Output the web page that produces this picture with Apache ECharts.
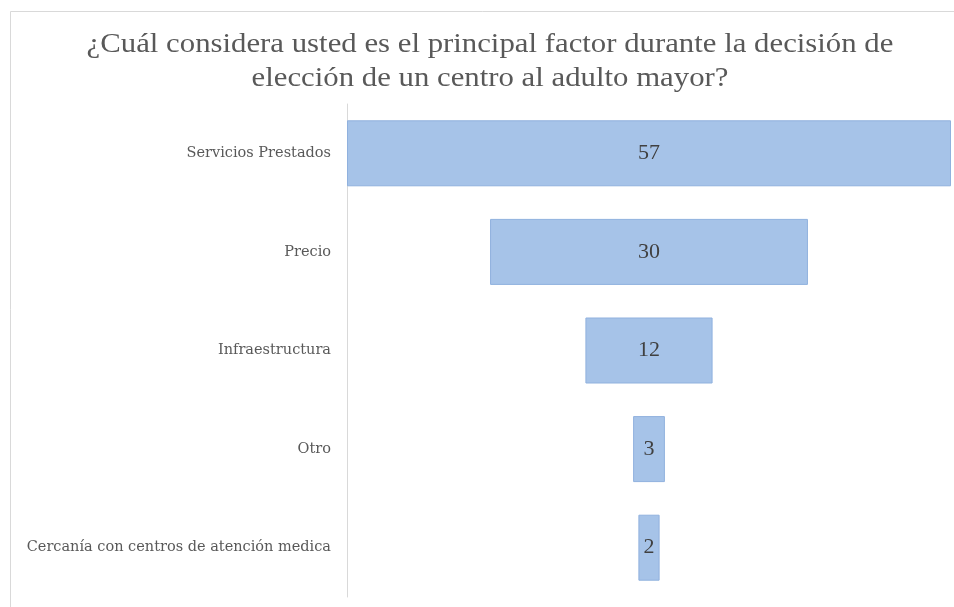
<!DOCTYPE html>
<html lang="es">
<head>
<meta charset="UTF-8">
<title>Factor de elección</title>
<style>
  html, body { margin: 0; padding: 0; background: #fff; }
  #chart { width: 954px; height: 607px; }
</style>
</head>
<body>
<div id="chart"></div>
<script src="https://cdn.jsdelivr.net/npm/echarts@6/dist/echarts.min.js"></script>
<script>
  // datos
  const titulo = '¿Cuál considera usted es el principal factor durante la decisión de\nelección de un centro al adulto mayor?';
  const categorias = ['Servicios Prestados', 'Precio', 'Infraestructura', 'Otro', 'Cercanía con centros de atención medica'];
  const valores = [57, 30, 12, 3, 2];

  const maximo = Math.max(...valores);
  // relleno invisible para centrar cada barra (efecto embudo)
  const relleno = valores.map(v => (maximo - v) / 2);

  const chart = echarts.init(document.getElementById('chart'));
  chart.setOption({
    backgroundColor: '#fff',
    animation: false,
    graphic: [{
      type: 'rect',
      shape: { x: 10.5, y: 11.5, width: 960, height: 620 },
      style: { fill: 'none', stroke: '#d9d9d9', lineWidth: 1 },
      silent: true
    }, {
      // título un poco ensanchado como en la imagen original
      type: 'text',
      x: 490,
      y: 28,
      scaleX: 1.14,
      style: {
        text: titulo,
        align: 'center',
        fontFamily: 'Liberation Serif',
        fontSize: 27,
        lineHeight: 34,
        fill: '#595959'
      },
      silent: true
    }],
    grid: { left: 347, right: 3, top: 104, bottom: 10 },
    xAxis: {
      type: 'value',
      min: 0,
      max: maximo,
      show: false
    },
    yAxis: {
      type: 'category',
      inverse: true,
      data: categorias,
      axisLine: { show: true, lineStyle: { color: '#d9d9d9', width: 1 } },
      axisTick: { show: false },
      axisLabel: {
        margin: 16,
        fontFamily: 'DejaVu Serif',
        fontSize: 14.5,
        color: '#595959'
      }
    },
    series: [{
      type: 'bar',
      stack: 'embudo',
      data: relleno,
      barWidth: 66,
      itemStyle: { color: 'transparent' },
      silent: true
    }, {
      type: 'bar',
      stack: 'embudo',
      data: valores,
      barWidth: 66,
      itemStyle: { color: '#a6c3e8', borderColor: '#90b1de', borderWidth: 1 },
      label: {
        show: true,
        position: 'inside',
        fontFamily: 'Liberation Serif',
        fontSize: 22,
        color: '#404040'
      }
    }]
  });
</script>
</body>
</html>
